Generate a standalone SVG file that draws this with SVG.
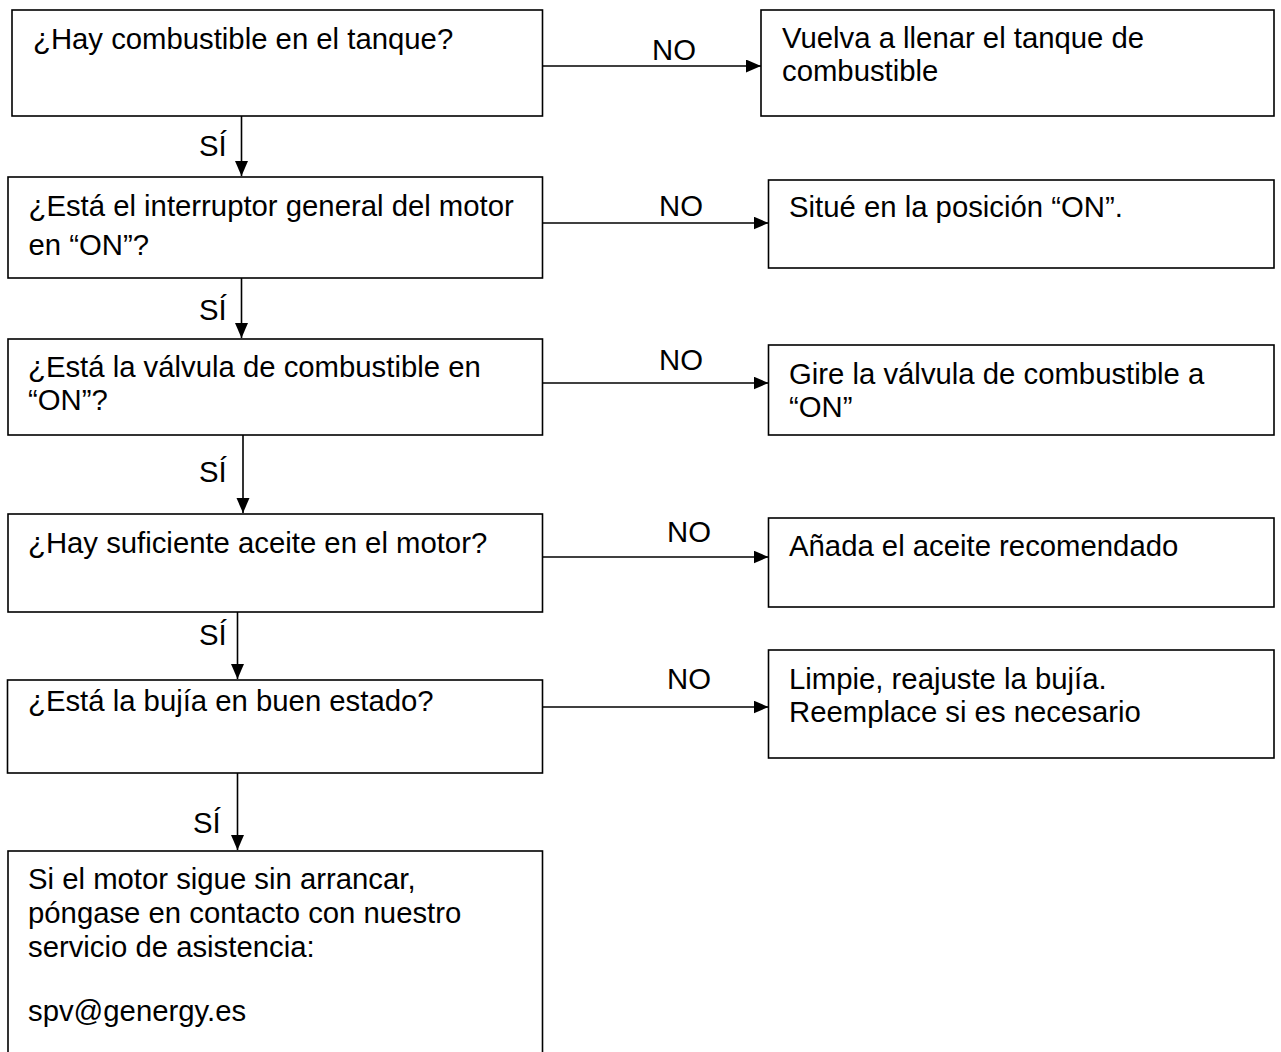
<svg xmlns="http://www.w3.org/2000/svg" width="1281" height="1052" viewBox="0 0 1281 1052">
<style>
  .box { fill: #ffffff; stroke: #000000; stroke-width: 1.6; }
  .t { font-family: "Liberation Sans", Arial, sans-serif; font-size: 29.3px; fill: #000000; }
  .c { stroke: #000000; stroke-width: 1.6; fill: none; marker-end: url(#ah); }
</style>
<defs>
  <marker id="ah" markerUnits="userSpaceOnUse" markerWidth="16" markerHeight="14" refX="15" refY="6.5" orient="auto">
    <path d="M0,0 L15,6.5 L0,13 Z" fill="#000000"/>
  </marker>
</defs>
<rect x="0" y="0" width="1281" height="1052" fill="#ffffff"/>

<g id="connectors">
  <line class="c" x1="241.5" y1="116" x2="241.5" y2="176"/>
  <line class="c" x1="241.5" y1="278" x2="241.5" y2="338"/>
  <line class="c" x1="243" y1="435" x2="243" y2="513"/>
  <line class="c" x1="237.5" y1="606" x2="237.5" y2="679"/>
  <line class="c" x1="237.5" y1="773" x2="237.5" y2="850"/>
  <line class="c" x1="542.5" y1="66" x2="761" y2="66"/>
  <line class="c" x1="542.5" y1="223" x2="768.5" y2="223"/>
  <line class="c" x1="542.5" y1="383" x2="768.5" y2="383"/>
  <line class="c" x1="542.5" y1="557" x2="768.5" y2="557"/>
  <line class="c" x1="542.5" y1="707" x2="768.5" y2="707"/>
  <text class="t" x="199" y="156">SÍ</text>
  <text class="t" x="199" y="320">SÍ</text>
  <text class="t" x="199" y="482">SÍ</text>
  <text class="t" x="199" y="645">SÍ</text>
  <text class="t" x="193" y="833">SÍ</text>
  <text class="t" x="652" y="60">NO</text>
  <text class="t" x="659" y="216">NO</text>
  <text class="t" x="659" y="370">NO</text>
  <text class="t" x="667" y="542">NO</text>
  <text class="t" x="667" y="689">NO</text>
</g>

<g id="q1">
  <rect class="box" x="12" y="10" width="530.5" height="106"/>
  <text class="t" x="33" y="49">¿Hay combustible en el tanque?</text>
</g>
<g id="a1">
  <rect class="box" x="761" y="10" width="513" height="106"/>
  <text class="t" x="782" y="48">Vuelva a llenar el tanque de</text>
  <text class="t" x="782" y="81">combustible</text>
</g>

<g id="q2">
  <rect class="box" x="8" y="177" width="534.5" height="101"/>
  <text class="t" x="28.5" y="216">¿Está el interruptor general del motor</text>
  <text class="t" x="28.5" y="255">en “ON”?</text>
</g>
<g id="a2">
  <rect class="box" x="768.5" y="180" width="505.5" height="88"/>
  <text class="t" x="789" y="217">Situé en la posición “ON”.</text>
</g>

<g id="q3">
  <rect class="box" x="8" y="339" width="534.5" height="96"/>
  <text class="t" x="28" y="377">¿Está la válvula de combustible en</text>
  <text class="t" x="28" y="410">“ON”?</text>
</g>
<g id="a3">
  <rect class="box" x="768.5" y="345" width="505.5" height="90"/>
  <text class="t" x="789" y="384">Gire la válvula de combustible a</text>
  <text class="t" x="789" y="417">“ON”</text>
</g>

<g id="q4">
  <rect class="box" x="8" y="514" width="534.5" height="98"/>
  <text class="t" x="28" y="553">¿Hay suficiente aceite en el motor?</text>
</g>
<g id="a4">
  <rect class="box" x="768.5" y="518" width="505.5" height="89"/>
  <text class="t" x="789" y="556">Añada el aceite recomendado</text>
</g>

<g id="q5">
  <rect class="box" x="7.5" y="680" width="535" height="93"/>
  <text class="t" x="28" y="711">¿Está la bujía en buen estado?</text>
</g>
<g id="a5">
  <rect class="box" x="768.5" y="650" width="505.5" height="108"/>
  <text class="t" x="789" y="689">Limpie, reajuste la bujía.</text>
  <text class="t" x="789" y="722">Reemplace si es necesario</text>
</g>

<g id="end">
  <rect class="box" x="8" y="851" width="534.5" height="230"/>
  <text class="t" x="28" y="889">Si el motor sigue sin arrancar,</text>
  <text class="t" x="28" y="923">póngase en contacto con nuestro</text>
  <text class="t" x="28" y="957">servicio de asistencia:</text>
  <text class="t" x="28" y="1021">spv@genergy.es</text>
</g>
</svg>
